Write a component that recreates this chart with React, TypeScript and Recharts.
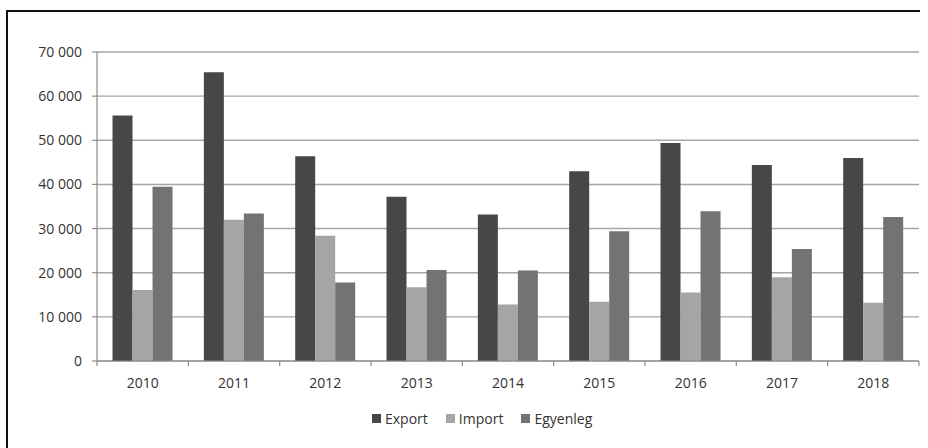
import React from "react";
import { BarChart, Bar, XAxis, YAxis, CartesianGrid, Legend } from "recharts";

const years = ["2010", "2011", "2012", "2013", "2014", "2015", "2016", "2017", "2018"];
const exportValues = [55600, 65400, 46400, 37200, 33200, 43000, 49400, 44400, 46000];
const importValues = [16100, 32000, 28400, 16700, 12800, 13400, 15500, 19000, 13200];
const balanceValues = [39500, 33400, 17800, 20600, 20500, 29400, 33900, 25400, 32600];
const yTicks = [0, 10000, 20000, 30000, 40000, 50000, 60000, 70000];
const seriesOrder = ["Export", "Import", "Egyenleg"];

const data = years.map((y, i) => ({
  year: y,
  exp: exportValues[i],
  imp: importValues[i],
  bal: balanceValues[i],
}));

const FONT = "'Open Sans', 'Liberation Sans', sans-serif";
const TEXT = "#333333";

const fmt = (v: number) => String(v).replace(/\B(?=(\d{3})+(?!\d))/g, " ");

function XTick(props: any) {
  const { x, y, payload, index, visibleTicksCount } = props;
  const w = typeof props.width === "number" && props.width > 100 ? props.width : 822;
  const n = visibleTicksCount || years.length;
  const half = w / (2 * n);
  const isLast = index === n - 1;
  return (
    <g>
      <line x1={x - half} x2={x - half} y1={y} y2={y + 5} stroke="#8c8c8c" strokeWidth={1.2} />
      {isLast && (
        <line x1={x + half} x2={x + half} y1={y} y2={y + 5} stroke="#8c8c8c" strokeWidth={1.2} />
      )}
      <text x={x} y={y + 27} textAnchor="middle" fill={TEXT} fontSize={14} fontFamily={FONT}>
        {payload.value}
      </text>
    </g>
  );
}

function LegendContent(props: any) {
  const items = [...(props.payload || [])].sort(
    (a: any, b: any) => seriesOrder.indexOf(a.value) - seriesOrder.indexOf(b.value)
  );
  return (
    <div style={{ display: "flex", alignItems: "center", fontFamily: FONT, fontSize: 14, color: TEXT }}>
      {items.map((it: any, i: number) => (
        <div key={i} style={{ display: "flex", alignItems: "center", marginRight: i < items.length - 1 ? 18 : 0 }}>
          <span style={{ display: "inline-block", width: 9, height: 9, background: it.color, marginRight: 4 }} />
          <span style={{ whiteSpace: "nowrap" }}>{it.value}</span>
        </div>
      ))}
    </div>
  );
}

export default function App() {
  return (
    <div style={{ position: "fixed", left: 0, top: 0, width: 928, height: 448, background: "#fff", overflow: "hidden" }}>
      <div style={{ position: "absolute", left: 0, top: 0 }}>
        <BarChart
          width={928}
          height={448}
          data={data}
          margin={{ top: 52, right: 9, bottom: 57, left: 37 }}
          barCategoryGap="17%"
          barGap={0}
        >
          <CartesianGrid vertical={false} stroke="#a6a6a6" strokeWidth={1.4} />
          <XAxis
            dataKey="year"
            axisLine={{ stroke: "#8c8c8c", strokeWidth: 1.2 }}
            tickLine={false}
            tickSize={0}
            tickMargin={0}
            tick={<XTick />}
            interval={0}
            height={30}
          />
          <YAxis
            domain={[0, 70000]}
            ticks={yTicks}
            width={60}
            tickFormatter={fmt}
            axisLine={{ stroke: "#8c8c8c", strokeWidth: 1.2 }}
            tickLine={{ stroke: "#8c8c8c", strokeWidth: 1.2 }}
            tickSize={5}
            tickMargin={10}
            tick={{ fill: TEXT, fontSize: 14, fontFamily: FONT }}
          />
          <Legend
            verticalAlign="middle"
            layout="horizontal"
            content={<LegendContent />}
            wrapperStyle={{ top: 409, left: 372, width: 300 }}
          />
          <Bar dataKey="exp" name={seriesOrder[0]} fill="#474747" isAnimationActive={false} />
          <Bar dataKey="imp" name={seriesOrder[1]} fill="#a5a5a5" isAnimationActive={false} />
          <Bar dataKey="bal" name={seriesOrder[2]} fill="#737373" isAnimationActive={false} />
        </BarChart>
      </div>
      <div style={{ position: "absolute", left: 6, top: 10, width: 914, height: 2, background: "#111", zIndex: 5 }} />
      <div style={{ position: "absolute", left: 6, top: 10, width: 2, height: 438, background: "#111", zIndex: 5 }} />
    </div>
  );
}
